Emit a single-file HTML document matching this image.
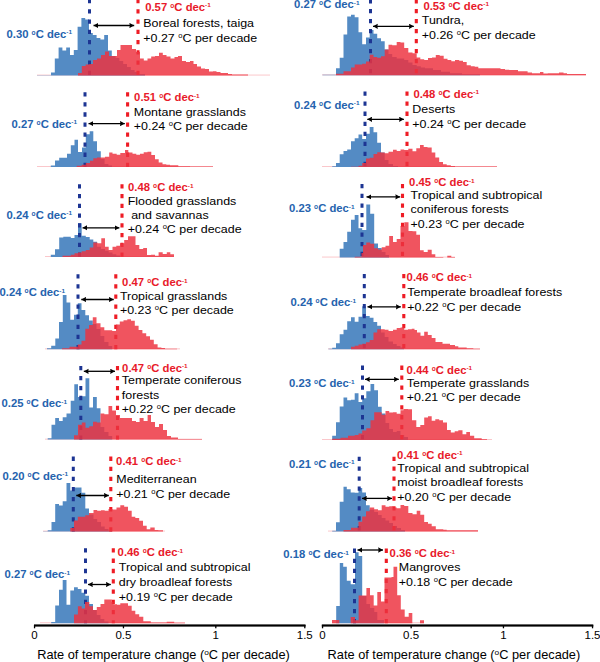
<!DOCTYPE html>
<html><head><meta charset="utf-8"><title>Temperature change histograms</title>
<style>
html,body{margin:0;padding:0;background:#fff;}
body{width:600px;height:662px;overflow:hidden;}
svg{display:block;font-family:"Liberation Sans",sans-serif;}
.lb{font-size:11.3px;font-weight:bold;}
.lb .sp{font-size:6.4px;}
.lb .so{font-size:6.6px;}
.tx{font-size:12.45px;fill:#000;}
.tx tspan[font-size]{font-size:7.6px;}
.tk{font-size:11.5px;fill:#000;}
.ax{font-size:12.8px;fill:#000;}
.ax .sp2{font-size:8.3px;}
</style></head>
<body>
<svg width="600" height="662" viewBox="0 0 600 662"><defs><marker id="ah" viewBox="0 0 10 10" preserveAspectRatio="none" refX="10" refY="5" markerWidth="4.8" markerHeight="5.6" orient="auto-start-reverse" markerUnits="userSpaceOnUse"><path d="M0,0.3 L10,5 L0,9.7 L0.8,5 Z" fill="#000"/></marker></defs><rect x="37" y="74.60" width="233" height="0.9" fill="#ed323f" opacity="0.3"/><path d="M37.00,75.50L37.00,75.20L51.00,75.20L51.00,72.50L54.80,72.50L54.80,58.50L58.60,58.50L58.60,47.50L62.40,47.50L62.40,50.50L66.20,50.50L66.20,47.50L70.00,47.50L70.00,55.00L73.80,55.00L73.80,50.00L77.60,50.00L77.60,26.80L81.40,26.80L81.40,18.00L85.20,18.00L85.20,19.50L89.00,19.50L89.00,33.00L92.80,33.00L92.80,35.00L96.60,35.00L96.60,38.00L100.40,38.00L100.40,39.50L104.20,39.50L104.20,35.00L108.00,35.00L108.00,50.50L111.80,50.50L111.80,56.00L115.60,56.00L115.60,58.00L119.40,58.00L119.40,61.00L123.20,61.00L123.20,64.00L127.00,64.00L127.00,67.00L130.80,67.00L130.80,70.00L134.60,70.00L134.60,72.00L138.40,72.00L138.40,74.00L145.00,74.00L145.00,75.50Z" fill="#548bc4"/><line x1="89.5" y1="-1" x2="89.5" y2="75.5" stroke="#1d3593" stroke-width="3" stroke-dasharray="4.3 5.95"/><line x1="138" y1="-1" x2="138" y2="75.5" stroke="#ee1c25" stroke-width="3.1" stroke-dasharray="4.3 5.95"/><path d="M78.00,75.50L78.00,73.00L81.80,73.00L81.80,66.00L85.60,66.00L85.60,64.50L89.40,64.50L89.40,64.00L93.00,64.00L93.00,60.00L97.00,60.00L97.00,58.50L101.00,58.50L101.00,55.00L105.00,55.00L105.00,51.50L109.00,51.50L109.00,56.00L117.00,56.00L117.00,50.00L120.50,50.00L120.50,45.00L132.00,45.00L132.00,49.00L136.00,49.00L136.00,52.00L140.00,52.00L140.00,58.50L143.80,58.50L143.80,60.50L147.50,60.50L147.50,58.50L151.20,58.50L151.20,56.50L155.00,56.50L155.00,56.00L159.00,56.00L159.00,52.80L162.80,52.80L162.80,55.00L166.50,55.00L166.50,56.50L170.50,56.50L170.50,58.50L174.50,58.50L174.50,57.00L178.00,57.00L178.00,56.00L182.00,56.00L182.00,61.00L186.00,61.00L186.00,62.00L190.00,62.00L190.00,61.00L193.50,61.00L193.50,64.00L197.00,64.00L197.00,66.50L201.00,66.50L201.00,68.50L205.00,68.50L205.00,69.00L209.00,69.00L209.00,71.50L213.00,71.50L213.00,71.20L216.50,71.20L216.50,72.00L220.50,72.00L220.50,73.00L228.00,73.00L228.00,74.00L232.00,74.00L232.00,74.60L248.00,74.60L248.00,75.50Z" fill="#ed323f" fill-opacity="0.835"/><line x1="93.5" y1="25.5" x2="134.2" y2="25.5" stroke="#000" stroke-width="1.3" marker-start="url(#ah)" marker-end="url(#ah)"/><text transform="translate(6.50,37.8) scale(1,0.96)" class="lb" fill="#2563ae">0.30 <tspan class="so" dy="-3.1">o</tspan><tspan dy="3.1">C dec</tspan><tspan class="sp" dy="-3.5">-1</tspan></text><text transform="translate(145.20,10.6) scale(1,0.96)" class="lb" fill="#e8192a">0.57 <tspan class="so" dy="-3.1">o</tspan><tspan dy="3.1">C dec</tspan><tspan class="sp" dy="-3.5">-1</tspan></text><text transform="translate(143.30,26.8) scale(1,0.94)" class="tx">Boreal forests, taiga</text><text transform="translate(143.30,41.5) scale(1,0.94)" class="tx">+0.27 <tspan font-size="8" dy="-4.2">o</tspan><tspan dy="4.2">C per decade</tspan></text><rect x="37" y="166.10" width="176" height="0.9" fill="#ed323f" opacity="0.3"/><path d="M50.80,167.00L50.80,165.50L55.00,165.50L55.00,160.50L59.20,160.50L59.20,157.80L67.00,157.80L67.00,153.70L70.80,153.70L70.80,145.30L74.50,145.30L74.50,139.70L78.00,139.70L78.00,152.00L82.00,152.00L82.00,147.50L85.80,147.50L85.80,134.20L89.70,134.20L89.70,131.30L93.30,131.30L93.30,141.30L97.00,141.30L97.00,151.30L100.80,151.30L100.80,159.00L104.60,159.00L104.60,164.00L108.40,164.00L108.40,165.50L112.00,165.50L112.00,167.00Z" fill="#548bc4"/><line x1="85" y1="92.2" x2="85" y2="167" stroke="#1d3593" stroke-width="3" stroke-dasharray="4.3 5.77"/><line x1="127.6" y1="92.2" x2="127.6" y2="167" stroke="#ee1c25" stroke-width="3.1" stroke-dasharray="4.3 5.77"/><path d="M76.70,167.00L76.70,165.80L81.70,165.80L81.70,164.70L85.80,164.70L85.80,163.00L90.00,163.00L90.00,160.80L93.30,160.80L93.30,158.30L97.00,158.30L97.00,157.50L105.00,157.50L105.00,156.70L109.20,156.70L109.20,152.50L112.50,152.50L112.50,153.70L116.70,153.70L116.70,154.70L120.30,154.70L120.30,153.00L125.00,153.00L125.00,150.00L128.30,150.00L128.30,152.50L132.50,152.50L132.50,153.70L136.30,153.70L136.30,154.70L140.00,154.70L140.00,153.80L143.70,153.80L143.70,152.20L147.50,152.20L147.50,151.70L151.30,151.70L151.30,155.00L155.00,155.00L155.00,159.20L158.70,159.20L158.70,162.50L162.50,162.50L162.50,164.20L166.30,164.20L166.30,164.70L170.00,164.70L170.00,165.30L178.30,165.30L178.30,166.20L190.00,166.20L190.00,166.60L213.00,166.60L213.00,167.00Z" fill="#ed323f" fill-opacity="0.835"/><line x1="88.5" y1="123.6" x2="124.8" y2="123.6" stroke="#000" stroke-width="1.3" marker-start="url(#ah)" marker-end="url(#ah)"/><text transform="translate(11.50,127.5) scale(1,0.96)" class="lb" fill="#2563ae">0.27 <tspan class="so" dy="-3.1">o</tspan><tspan dy="3.1">C dec</tspan><tspan class="sp" dy="-3.5">-1</tspan></text><text transform="translate(134.10,101.2) scale(1,0.96)" class="lb" fill="#e8192a">0.51 <tspan class="so" dy="-3.1">o</tspan><tspan dy="3.1">C dec</tspan><tspan class="sp" dy="-3.5">-1</tspan></text><text transform="translate(133.80,115.5) scale(1,0.94)" class="tx">Montane grasslands</text><text transform="translate(133.80,130) scale(1,0.94)" class="tx">+0.24 <tspan font-size="8" dy="-4.2">o</tspan><tspan dy="4.2">C per decade</tspan></text><rect x="45" y="256.10" width="129" height="0.9" fill="#ed323f" opacity="0.3"/><path d="M50.80,257.00L50.80,254.70L55.00,254.70L55.00,249.20L59.20,249.20L59.20,237.50L63.30,237.50L63.30,236.70L70.80,236.70L70.80,238.00L74.50,238.00L74.50,235.00L78.00,235.00L78.00,223.30L81.70,223.30L81.70,235.80L85.80,235.80L85.80,237.00L89.70,237.00L89.70,239.50L93.30,239.50L93.30,241.70L97.00,241.70L97.00,246.70L101.00,246.70L101.00,249.00L105.00,249.00L105.00,250.80L108.70,250.80L108.70,252.50L112.50,252.50L112.50,254.20L116.30,254.20L116.30,255.50L120.00,255.50L120.00,257.00Z" fill="#548bc4"/><line x1="79.5" y1="184.2" x2="79.5" y2="257" stroke="#1d3593" stroke-width="3" stroke-dasharray="4.3 5.46"/><line x1="122" y1="184.2" x2="122" y2="257" stroke="#ee1c25" stroke-width="3.1" stroke-dasharray="4.3 5.46"/><path d="M62.50,257.00L62.50,255.80L70.80,255.80L70.80,254.70L74.50,254.70L74.50,253.30L78.00,253.30L78.00,252.50L81.70,252.50L81.70,251.30L85.80,251.30L85.80,250.00L89.70,250.00L89.70,247.50L93.30,247.50L93.30,242.50L97.50,242.50L97.50,243.30L101.30,243.30L101.30,238.30L105.00,238.30L105.00,246.70L108.70,246.70L108.70,250.00L112.50,250.00L112.50,246.70L116.30,246.70L116.30,245.80L120.00,245.80L120.00,243.30L124.20,243.30L124.20,240.00L128.00,240.00L128.00,236.30L135.50,236.30L135.50,245.00L139.30,245.00L139.30,249.00L143.20,249.00L143.20,248.00L147.00,248.00L147.00,254.90L151.00,254.90L151.00,254.70L155.00,254.70L155.00,255.80L158.60,255.80L158.60,252.30L162.70,252.30L162.70,254.00L166.80,254.00L166.80,252.30L170.30,252.30L170.30,254.30L174.00,254.30L174.00,257.00Z" fill="#ed323f" fill-opacity="0.835"/><line x1="82.5" y1="227.8" x2="119.4" y2="227.8" stroke="#000" stroke-width="1.3" marker-start="url(#ah)" marker-end="url(#ah)"/><text transform="translate(6.50,218.8) scale(1,0.96)" class="lb" fill="#2563ae">0.24 <tspan class="so" dy="-3.1">o</tspan><tspan dy="3.1">C dec</tspan><tspan class="sp" dy="-3.5">-1</tspan></text><text transform="translate(128.00,191.1) scale(1,0.96)" class="lb" fill="#e8192a">0.48 <tspan class="so" dy="-3.1">o</tspan><tspan dy="3.1">C dec</tspan><tspan class="sp" dy="-3.5">-1</tspan></text><text transform="translate(127.70,204.6) scale(1,0.94)" class="tx">Flooded grasslands</text><text transform="translate(127.70,219) scale(1,0.94)" class="tx"> and savannas</text><text transform="translate(127.70,233.4) scale(1,0.94)" class="tx">+0.24 <tspan font-size="8" dy="-4.2">o</tspan><tspan dy="4.2">C per decade</tspan></text><rect x="45" y="348.40" width="135" height="0.9" fill="#ed323f" opacity="0.3"/><path d="M47.00,349.30L47.00,348.20L51.20,348.20L51.20,345.70L55.30,345.70L55.30,338.50L59.00,338.50L59.00,322.00L62.80,322.00L62.80,295.00L66.50,295.00L66.50,302.50L70.30,302.50L70.30,319.80L74.00,319.80L74.00,314.80L77.80,314.80L77.80,303.30L81.50,303.30L81.50,310.00L85.30,310.00L85.30,315.30L89.00,315.30L89.00,320.50L92.80,320.50L92.80,324.00L96.50,324.00L96.50,329.00L100.50,329.00L100.50,336.00L104.30,336.00L104.30,342.00L108.50,342.00L108.50,346.00L112.20,346.00L112.20,349.30Z" fill="#548bc4"/><line x1="78" y1="274.2" x2="78" y2="349.3" stroke="#1d3593" stroke-width="3" stroke-dasharray="4.3 5.80"/><line x1="115.8" y1="274.2" x2="115.8" y2="349.3" stroke="#ee1c25" stroke-width="3.1" stroke-dasharray="4.3 5.80"/><path d="M62.00,349.30L62.00,348.20L69.50,348.20L69.50,346.70L77.80,346.70L77.80,344.50L81.50,344.50L81.50,340.80L85.30,340.80L85.30,328.80L89.00,328.80L89.00,325.00L92.80,325.00L92.80,317.20L96.50,317.20L96.50,323.20L100.50,323.20L100.50,327.20L104.30,327.20L104.30,330.20L112.20,330.20L112.20,331.00L116.00,331.00L116.00,324.50L119.80,324.50L119.80,321.50L123.50,321.50L123.50,320.30L127.30,320.30L127.30,319.20L131.00,319.20L131.00,320.80L134.80,320.80L134.80,325.80L138.60,325.80L138.60,330.00L142.40,330.00L142.40,333.30L146.20,333.30L146.20,336.30L150.00,336.30L150.00,339.70L153.80,339.70L153.80,344.20L157.60,344.20L157.60,347.50L161.40,347.50L161.40,348.00L165.00,348.00L165.00,348.70L177.00,348.70L177.00,349.30Z" fill="#ed323f" fill-opacity="0.835"/><line x1="81.3" y1="299.5" x2="113.7" y2="299.5" stroke="#000" stroke-width="1.3" marker-start="url(#ah)" marker-end="url(#ah)"/><text transform="translate(-0.50,296.3) scale(1,0.96)" class="lb" fill="#2563ae">0.24 <tspan class="so" dy="-3.1">o</tspan><tspan dy="3.1">C dec</tspan><tspan class="sp" dy="-3.5">-1</tspan></text><text transform="translate(122.10,286.3) scale(1,0.96)" class="lb" fill="#e8192a">0.47 <tspan class="so" dy="-3.1">o</tspan><tspan dy="3.1">C dec</tspan><tspan class="sp" dy="-3.5">-1</tspan></text><text transform="translate(119.90,300) scale(1,0.94)" class="tx">Tropical grasslands</text><text transform="translate(119.90,314.4) scale(1,0.94)" class="tx">+0.23 <tspan font-size="8" dy="-4.2">o</tspan><tspan dy="4.2">C per decade</tspan></text><rect x="45" y="438.70" width="157" height="0.9" fill="#ed323f" opacity="0.3"/><path d="M47.70,439.60L47.70,438.20L51.50,438.20L51.50,424.70L55.20,424.70L55.20,418.00L59.00,418.00L59.00,421.00L62.70,421.00L62.70,417.20L66.50,417.20L66.50,413.50L70.70,413.50L70.70,400.80L74.30,400.80L74.30,384.20L78.00,384.20L78.00,397.00L81.80,397.00L81.80,396.20L85.50,396.20L85.50,378.20L89.30,378.20L89.30,407.50L93.00,407.50L93.00,397.00L96.80,397.00L96.80,408.20L100.50,408.20L100.50,427.00L104.30,427.00L104.30,432.00L108.50,432.00L108.50,436.00L112.20,436.00L112.20,439.60Z" fill="#548bc4"/><line x1="80.8" y1="366.05" x2="80.8" y2="439.6" stroke="#1d3593" stroke-width="3" stroke-dasharray="4.3 5.63"/><line x1="117.5" y1="366.05" x2="117.5" y2="439.6" stroke="#ee1c25" stroke-width="3.1" stroke-dasharray="4.3 5.63"/><path d="M74.00,439.60L74.00,435.20L78.00,435.20L78.00,424.70L81.80,424.70L81.80,422.50L85.50,422.50L85.50,427.70L89.30,427.70L89.30,426.20L93.00,426.20L93.00,421.70L96.80,421.70L96.80,422.50L100.50,422.50L100.50,413.50L104.30,413.50L104.30,414.20L108.50,414.20L108.50,406.00L112.20,406.00L112.20,410.50L116.00,410.50L116.00,415.00L120.00,415.00L120.00,418.00L132.00,418.00L132.00,421.00L136.00,421.00L136.00,422.00L139.60,422.00L139.60,418.00L143.60,418.00L143.60,421.00L147.60,421.00L147.60,415.00L151.00,415.00L151.00,422.00L155.00,422.00L155.00,427.00L159.00,427.00L159.00,424.00L163.00,424.00L163.00,430.00L167.00,430.00L167.00,436.00L171.00,436.00L171.00,437.40L178.00,437.40L178.00,439.00L202.00,439.00L202.00,439.60Z" fill="#ed323f" fill-opacity="0.835"/><line x1="83.8" y1="371.3" x2="115" y2="371.3" stroke="#000" stroke-width="1.3" marker-start="url(#ah)" marker-end="url(#ah)"/><text transform="translate(1.50,407) scale(1,0.96)" class="lb" fill="#2563ae">0.25 <tspan class="so" dy="-3.1">o</tspan><tspan dy="3.1">C dec</tspan><tspan class="sp" dy="-3.5">-1</tspan></text><text transform="translate(122.10,371.8) scale(1,0.96)" class="lb" fill="#e8192a">0.47 <tspan class="so" dy="-3.1">o</tspan><tspan dy="3.1">C dec</tspan><tspan class="sp" dy="-3.5">-1</tspan></text><text transform="translate(121.80,383.8) scale(1,0.94)" class="tx">Temperate coniferous</text><text transform="translate(121.80,398.5) scale(1,0.94)" class="tx">forests</text><text transform="translate(121.80,413) scale(1,0.94)" class="tx">+0.22 <tspan font-size="8" dy="-4.2">o</tspan><tspan dy="4.2">C per decade</tspan></text><rect x="43" y="530.60" width="122" height="0.9" fill="#ed323f" opacity="0.3"/><path d="M43.20,531.50L43.20,531.20L47.70,531.20L47.70,530.20L51.50,530.20L51.50,522.00L55.20,522.00L55.20,504.00L59.00,504.00L59.00,505.50L62.70,505.50L62.70,501.30L66.50,501.30L66.50,483.00L70.30,483.00L70.30,490.50L74.00,490.50L74.00,487.50L81.50,487.50L81.50,492.70L85.30,492.70L85.30,508.50L89.00,508.50L89.00,514.50L93.50,514.50L93.50,519.00L97.20,519.00L97.20,522.00L101.00,522.00L101.00,526.50L104.70,526.50L104.70,529.00L108.50,529.00L108.50,530.50L112.00,530.50L112.00,531.50Z" fill="#548bc4"/><line x1="73.3" y1="456.6" x2="73.3" y2="531.5" stroke="#1d3593" stroke-width="3" stroke-dasharray="4.3 5.80"/><line x1="110.8" y1="456.6" x2="110.8" y2="531.5" stroke="#ee1c25" stroke-width="3.1" stroke-dasharray="4.3 5.80"/><path d="M70.30,531.50L70.30,528.00L74.00,528.00L74.00,520.50L77.80,520.50L77.80,516.70L85.30,516.70L85.30,515.20L89.00,515.20L89.00,513.00L93.50,513.00L93.50,510.00L97.20,510.00L97.20,510.70L101.00,510.70L101.00,510.30L104.70,510.30L104.70,510.70L108.50,510.70L108.50,509.00L112.50,509.00L112.50,509.50L116.50,509.50L116.50,507.50L120.30,507.50L120.30,505.20L124.20,505.20L124.20,506.70L128.00,506.70L128.00,510.80L131.70,510.80L131.70,516.70L135.30,516.70L135.30,518.00L139.20,518.00L139.20,520.80L143.00,520.80L143.00,525.80L146.70,525.80L146.70,529.20L150.30,529.20L150.30,527.50L154.70,527.50L154.70,530.00L158.30,530.00L158.30,530.30L163.00,530.30L163.00,531.50Z" fill="#ed323f" fill-opacity="0.835"/><line x1="76.3" y1="495.5" x2="108.8" y2="495.5" stroke="#000" stroke-width="1.3" marker-start="url(#ah)" marker-end="url(#ah)"/><text transform="translate(2.50,479.5) scale(1,0.96)" class="lb" fill="#2563ae">0.20 <tspan class="so" dy="-3.1">o</tspan><tspan dy="3.1">C dec</tspan><tspan class="sp" dy="-3.5">-1</tspan></text><text transform="translate(116.10,465.2) scale(1,0.96)" class="lb" fill="#e8192a">0.41 <tspan class="so" dy="-3.1">o</tspan><tspan dy="3.1">C dec</tspan><tspan class="sp" dy="-3.5">-1</tspan></text><text transform="translate(116.30,483.2) scale(1,0.94)" class="tx">Mediterranean</text><text transform="translate(116.30,498) scale(1,0.94)" class="tx">+0.21 <tspan font-size="8" dy="-4.2">o</tspan><tspan dy="4.2">C per decade</tspan></text><rect x="40" y="622.30" width="145" height="0.9" fill="#ed323f" opacity="0.3"/><path d="M51.20,623.20L51.20,622.00L55.20,622.00L55.20,605.50L59.00,605.50L59.00,589.70L62.70,589.70L62.70,580.00L66.50,580.00L66.50,604.70L70.30,604.70L70.30,590.50L74.00,590.50L74.00,587.20L77.80,587.20L77.80,589.00L81.50,589.00L81.50,592.70L85.30,592.70L85.30,595.70L89.00,595.70L89.00,604.00L93.00,604.00L93.00,610.00L96.80,610.00L96.80,615.00L100.50,615.00L100.50,619.00L104.30,619.00L104.30,621.50L108.50,621.50L108.50,623.20Z" fill="#548bc4"/><line x1="85.5" y1="548.3" x2="85.5" y2="623.2" stroke="#1d3593" stroke-width="3" stroke-dasharray="4.3 5.98"/><line x1="113.3" y1="548.3" x2="113.3" y2="623.2" stroke="#ee1c25" stroke-width="3.1" stroke-dasharray="4.3 5.98"/><path d="M74.00,623.20L74.00,614.60L77.90,614.60L77.90,606.30L81.70,606.30L81.70,608.60L85.00,608.60L85.00,602.00L89.30,602.00L89.30,606.20L93.00,606.20L93.00,610.00L96.80,610.00L96.80,607.00L100.50,607.00L100.50,604.00L104.30,604.00L104.30,599.50L111.80,599.50L111.80,602.00L113.50,602.00L113.50,604.20L117.00,604.20L117.00,604.70L120.30,604.70L120.30,603.30L128.00,603.30L128.00,605.80L131.70,605.80L131.70,610.80L135.30,610.80L135.30,614.20L139.20,614.20L139.20,616.70L143.30,616.70L143.30,621.30L150.80,621.30L150.80,622.50L166.70,622.50L166.70,621.80L174.20,621.80L174.20,622.70L185.00,622.70L185.00,623.20Z" fill="#ed323f" fill-opacity="0.835"/><line x1="88" y1="584.5" x2="110.8" y2="584.5" stroke="#000" stroke-width="1.3" marker-start="url(#ah)" marker-end="url(#ah)"/><text transform="translate(4.50,578) scale(1,0.96)" class="lb" fill="#2563ae">0.27 <tspan class="so" dy="-3.1">o</tspan><tspan dy="3.1">C dec</tspan><tspan class="sp" dy="-3.5">-1</tspan></text><text transform="translate(117.60,556.3) scale(1,0.96)" class="lb" fill="#e8192a">0.46 <tspan class="so" dy="-3.1">o</tspan><tspan dy="3.1">C dec</tspan><tspan class="sp" dy="-3.5">-1</tspan></text><text transform="translate(118.80,571.2) scale(1,0.94)" class="tx">Tropical and subtropical</text><text transform="translate(118.80,586.2) scale(1,0.94)" class="tx">dry broadleaf forests</text><text transform="translate(118.80,600.8) scale(1,0.94)" class="tx">+0.19 <tspan font-size="8" dy="-4.2">o</tspan><tspan dy="4.2">C per decade</tspan></text><rect x="322" y="74.40" width="264" height="0.9" fill="#ed323f" opacity="0.3"/><path d="M322.50,75.30L322.50,74.80L336.00,74.80L336.00,68.20L339.70,68.20L339.70,57.70L343.50,57.70L343.50,34.50L347.20,34.50L347.20,16.50L351.00,16.50L351.00,14.70L354.70,14.70L354.70,17.20L358.50,17.20L358.50,32.20L362.20,32.20L362.20,44.20L366.00,44.20L366.00,37.50L369.70,37.50L369.70,30.00L373.50,30.00L373.50,33.70L377.20,33.70L377.20,38.20L381.00,38.20L381.00,41.20L384.70,41.20L384.70,49.50L388.50,49.50L388.50,54.00L392.20,54.00L392.20,57.00L396.70,57.00L396.70,58.50L404.20,58.50L404.20,60.00L408.30,60.00L408.30,62.50L412.50,62.50L412.50,65.00L416.70,65.00L416.70,66.30L420.80,66.30L420.80,67.50L425.00,67.50L425.00,68.30L433.00,68.30L433.00,70.00L441.00,70.00L441.00,71.70L450.00,71.70L450.00,73.30L462.00,73.30L462.00,74.20L480.00,74.20L480.00,75.30Z" fill="#548bc4"/><line x1="370.5" y1="-0.9" x2="370.5" y2="75.3" stroke="#1d3593" stroke-width="3" stroke-dasharray="4.3 5.67"/><line x1="416.3" y1="-0.9" x2="416.3" y2="75.3" stroke="#ee1c25" stroke-width="3.1" stroke-dasharray="4.3 5.67"/><path d="M336.00,75.30L336.00,73.80L343.50,73.80L343.50,71.20L351.00,71.20L351.00,67.50L354.70,67.50L354.70,64.50L362.20,64.50L362.20,63.70L366.00,63.70L366.00,61.50L369.70,61.50L369.70,54.70L373.50,54.70L373.50,57.00L377.20,57.00L377.20,57.70L381.00,57.70L381.00,56.20L384.70,56.20L384.70,49.50L388.50,49.50L388.50,44.70L392.20,44.70L392.20,45.30L396.70,45.30L396.70,42.00L400.50,42.00L400.50,42.60L404.20,42.60L404.20,48.00L408.30,48.00L408.30,52.50L412.50,52.50L412.50,53.30L416.70,53.30L416.70,57.50L420.30,57.50L420.30,59.20L424.20,59.20L424.20,60.00L428.00,60.00L428.00,58.00L432.00,58.00L432.00,57.50L435.80,57.50L435.80,55.00L439.70,55.00L439.70,55.80L443.70,55.80L443.70,58.70L447.50,58.70L447.50,60.00L451.30,60.00L451.30,61.30L455.00,61.30L455.00,60.00L459.20,60.00L459.20,60.80L463.00,60.80L463.00,62.00L466.70,62.00L466.70,65.30L470.80,65.30L470.80,66.30L474.70,66.30L474.70,66.70L478.30,66.70L478.30,68.30L500.50,68.30L500.50,68.90L505.00,68.90L505.00,69.80L509.20,69.80L509.20,70.10L518.00,70.10L518.00,71.20L527.60,71.20L527.60,72.40L532.00,72.40L532.00,73.20L540.00,73.20L540.00,71.90L543.40,71.90L543.40,73.60L547.80,73.60L547.80,73.20L559.00,73.20L559.00,72.40L563.50,72.40L563.50,73.20L567.00,73.20L567.00,74.00L586.00,74.00L586.00,75.30Z" fill="#ed323f" fill-opacity="0.835"/><line x1="373" y1="26.3" x2="413.8" y2="26.3" stroke="#000" stroke-width="1.3" marker-start="url(#ah)" marker-end="url(#ah)"/><text transform="translate(294.00,8) scale(1,0.96)" class="lb" fill="#2563ae">0.27 <tspan class="so" dy="-3.1">o</tspan><tspan dy="3.1">C dec</tspan><tspan class="sp" dy="-3.5">-1</tspan></text><text transform="translate(423.40,9.5) scale(1,0.96)" class="lb" fill="#e8192a">0.53 <tspan class="so" dy="-3.1">o</tspan><tspan dy="3.1">C dec</tspan><tspan class="sp" dy="-3.5">-1</tspan></text><text transform="translate(421.80,23.8) scale(1,0.94)" class="tx">Tundra,</text><text transform="translate(421.80,38.8) scale(1,0.94)" class="tx">+0.26 <tspan font-size="8" dy="-4.2">o</tspan><tspan dy="4.2">C per decade</tspan></text><rect x="322" y="166.10" width="175" height="0.9" fill="#ed323f" opacity="0.3"/><path d="M332.20,167.00L332.20,166.30L336.00,166.30L336.00,163.00L339.70,163.00L339.70,154.30L343.50,154.30L343.50,151.00L347.20,151.00L347.20,149.50L351.00,149.50L351.00,141.20L354.70,141.20L354.70,138.20L358.50,138.20L358.50,134.50L362.20,134.50L362.20,139.00L366.00,139.00L366.00,133.70L369.70,133.70L369.70,127.00L373.50,127.00L373.50,132.20L377.20,132.20L377.20,142.70L381.00,142.70L381.00,152.50L384.70,152.50L384.70,160.00L388.50,160.00L388.50,164.00L393.00,164.00L393.00,166.00L398.00,166.00L398.00,167.00Z" fill="#548bc4"/><line x1="365" y1="91.5" x2="365" y2="167" stroke="#1d3593" stroke-width="3" stroke-dasharray="4.3 5.75"/><line x1="407" y1="91.5" x2="407" y2="167" stroke="#ee1c25" stroke-width="3.1" stroke-dasharray="4.3 5.75"/><path d="M351.00,167.00L351.00,166.70L358.50,166.70L358.50,165.70L362.20,165.70L362.20,163.00L366.00,163.00L366.00,158.50L369.70,158.50L369.70,157.70L373.50,157.70L373.50,154.00L377.20,154.00L377.20,152.20L381.00,152.20L381.00,152.50L384.70,152.50L384.70,153.20L388.50,153.20L388.50,151.70L393.00,151.70L393.00,149.80L396.70,149.80L396.70,151.00L400.50,151.00L400.50,149.50L404.20,149.50L404.20,150.00L408.30,150.00L408.30,148.70L412.50,148.70L412.50,151.30L416.30,151.30L416.30,148.30L420.00,148.30L420.00,145.00L423.70,145.00L423.70,147.00L427.50,147.00L427.50,147.50L431.70,147.50L431.70,152.50L435.30,152.50L435.30,157.50L439.20,157.50L439.20,162.00L443.00,162.00L443.00,164.20L446.70,164.20L446.70,165.30L450.80,165.30L450.80,166.00L455.00,166.00L455.00,166.60L497.00,166.60L497.00,167.00Z" fill="#ed323f" fill-opacity="0.835"/><line x1="367.3" y1="119.3" x2="403.9" y2="119.3" stroke="#000" stroke-width="1.3" marker-start="url(#ah)" marker-end="url(#ah)"/><text transform="translate(294.00,108.8) scale(1,0.96)" class="lb" fill="#2563ae">0.24 <tspan class="so" dy="-3.1">o</tspan><tspan dy="3.1">C dec</tspan><tspan class="sp" dy="-3.5">-1</tspan></text><text transform="translate(413.40,97.5) scale(1,0.96)" class="lb" fill="#e8192a">0.48 <tspan class="so" dy="-3.1">o</tspan><tspan dy="3.1">C dec</tspan><tspan class="sp" dy="-3.5">-1</tspan></text><text transform="translate(412.30,112.5) scale(1,0.94)" class="tx">Deserts</text><text transform="translate(412.30,127.5) scale(1,0.94)" class="tx">+0.24 <tspan font-size="8" dy="-4.2">o</tspan><tspan dy="4.2">C per decade</tspan></text><rect x="322" y="256.60" width="133" height="0.9" fill="#ed323f" opacity="0.3"/><path d="M339.70,257.50L339.70,248.80L343.50,248.80L343.50,242.00L347.20,242.00L347.20,231.80L351.00,231.80L351.00,219.80L354.70,219.80L354.70,215.00L358.50,215.00L358.50,228.20L362.20,228.20L362.20,230.00L366.30,230.00L366.30,204.50L370.20,204.50L370.20,213.80L374.20,213.80L374.20,243.50L378.00,243.50L378.00,248.00L381.70,248.00L381.70,252.00L385.50,252.00L385.50,255.00L389.00,255.00L389.00,257.50Z" fill="#548bc4"/><line x1="362" y1="184.05" x2="362" y2="257.5" stroke="#1d3593" stroke-width="3" stroke-dasharray="4.3 5.37"/><line x1="402.5" y1="184.05" x2="402.5" y2="257.5" stroke="#ee1c25" stroke-width="3.1" stroke-dasharray="4.3 5.37"/><path d="M354.70,257.50L354.70,256.70L361.50,256.70L361.50,253.00L363.00,253.00L363.00,245.00L366.30,245.00L366.30,242.50L370.20,242.50L370.20,243.80L374.20,243.80L374.20,248.30L378.00,248.30L378.00,249.50L381.70,249.50L381.70,247.20L385.50,247.20L385.50,245.70L389.20,245.70L389.20,236.00L393.00,236.00L393.00,242.00L396.70,242.00L396.70,239.00L400.50,239.00L400.50,226.00L404.30,226.00L404.30,222.30L408.50,222.30L408.50,231.00L412.50,231.00L412.50,231.30L416.30,231.30L416.30,234.70L420.00,234.70L420.00,250.30L423.70,250.30L423.70,252.00L427.70,252.00L427.70,249.70L431.70,249.70L431.70,254.30L435.30,254.30L435.30,257.00L443.30,257.00L443.30,257.50L447.30,257.50L447.30,255.70L451.30,255.70L451.30,257.00L455.00,257.00L455.00,257.50Z" fill="#ed323f" fill-opacity="0.835"/><line x1="366.5" y1="196.9" x2="400.2" y2="196.9" stroke="#000" stroke-width="1.3" marker-start="url(#ah)" marker-end="url(#ah)"/><text transform="translate(289.00,212) scale(1,0.96)" class="lb" fill="#2563ae">0.23 <tspan class="so" dy="-3.1">o</tspan><tspan dy="3.1">C dec</tspan><tspan class="sp" dy="-3.5">-1</tspan></text><text transform="translate(409.10,186.3) scale(1,0.96)" class="lb" fill="#e8192a">0.45 <tspan class="so" dy="-3.1">o</tspan><tspan dy="3.1">C dec</tspan><tspan class="sp" dy="-3.5">-1</tspan></text><text transform="translate(410.60,198.8) scale(1,0.94)" class="tx">Tropical and subtropical</text><text transform="translate(410.60,213) scale(1,0.94)" class="tx">coniferous forests</text><text transform="translate(410.60,227.5) scale(1,0.94)" class="tx">+0.23 <tspan font-size="8" dy="-4.2">o</tspan><tspan dy="4.2">C per decade</tspan></text><rect x="328" y="348.40" width="152" height="0.9" fill="#ed323f" opacity="0.3"/><path d="M328.50,349.30L328.50,348.70L332.20,348.70L332.20,347.80L336.00,347.80L336.00,343.30L339.70,343.30L339.70,334.30L343.50,334.30L343.50,329.80L347.20,329.80L347.20,321.20L351.00,321.20L351.00,317.20L354.70,317.20L354.70,321.70L358.50,321.70L358.50,316.80L362.20,316.80L362.20,306.20L366.00,306.20L366.00,316.00L369.70,316.00L369.70,317.80L373.50,317.80L373.50,322.00L377.20,322.00L377.20,325.70L381.00,325.70L381.00,332.50L384.70,332.50L384.70,337.00L388.50,337.00L388.50,341.50L393.00,341.50L393.00,344.00L396.70,344.00L396.70,346.00L400.50,346.00L400.50,347.50L404.00,347.50L404.00,349.30Z" fill="#548bc4"/><line x1="364.3" y1="273.9" x2="364.3" y2="349.3" stroke="#1d3593" stroke-width="3" stroke-dasharray="4.3 5.70"/><line x1="403.8" y1="273.9" x2="403.8" y2="349.3" stroke="#ee1c25" stroke-width="3.1" stroke-dasharray="4.3 5.70"/><path d="M351.00,349.30L351.00,346.70L354.70,346.70L354.70,345.70L358.50,345.70L358.50,344.50L362.20,344.50L362.20,343.70L366.00,343.70L366.00,342.20L369.70,342.20L369.70,340.00L373.50,340.00L373.50,332.50L377.20,332.50L377.20,329.20L384.70,329.20L384.70,329.80L388.50,329.80L388.50,331.00L393.00,331.00L393.00,329.80L396.70,329.80L396.70,328.00L400.50,328.00L400.50,327.60L404.20,327.60L404.20,329.70L408.00,329.70L408.00,329.20L411.80,329.20L411.80,328.70L414.50,328.70L414.50,330.00L417.00,330.00L417.00,332.50L420.50,332.50L420.50,335.80L424.20,335.80L424.20,331.70L427.80,331.70L427.80,335.00L431.70,335.00L431.70,338.00L435.50,338.00L435.50,342.00L442.50,342.00L442.50,343.70L450.00,343.70L450.00,345.00L455.00,345.00L455.00,346.30L458.30,346.30L458.30,347.50L466.70,347.50L466.70,348.30L473.30,348.30L473.30,348.80L480.00,348.80L480.00,349.30Z" fill="#ed323f" fill-opacity="0.835"/><line x1="367.5" y1="306.8" x2="400.8" y2="306.8" stroke="#000" stroke-width="1.3" marker-start="url(#ah)" marker-end="url(#ah)"/><text transform="translate(290.50,306) scale(1,0.96)" class="lb" fill="#2563ae">0.24 <tspan class="so" dy="-3.1">o</tspan><tspan dy="3.1">C dec</tspan><tspan class="sp" dy="-3.5">-1</tspan></text><text transform="translate(406.60,281.3) scale(1,0.96)" class="lb" fill="#e8192a">0.46 <tspan class="so" dy="-3.1">o</tspan><tspan dy="3.1">C dec</tspan><tspan class="sp" dy="-3.5">-1</tspan></text><text transform="translate(407.30,296.3) scale(1,0.94)" class="tx">Temperate broadleaf forests</text><text transform="translate(407.30,310.8) scale(1,0.94)" class="tx">+0.22 <tspan font-size="8" dy="-4.2">o</tspan><tspan dy="4.2">C per decade</tspan></text><rect x="322" y="439.10" width="170" height="0.9" fill="#ed323f" opacity="0.3"/><path d="M332.20,440.00L332.20,435.70L336.00,435.70L336.00,422.20L339.70,422.20L339.70,406.50L343.50,406.50L343.50,397.50L347.20,397.50L347.20,400.20L351.00,400.20L351.00,399.70L354.70,399.70L354.70,393.30L358.50,393.30L358.50,402.00L362.20,402.00L362.20,398.20L366.30,398.20L366.30,391.20L370.50,391.20L370.50,384.00L374.20,384.00L374.20,390.30L378.00,390.30L378.00,406.80L381.70,406.80L381.70,413.50L385.50,413.50L385.50,423.00L389.20,423.00L389.20,429.00L393.00,429.00L393.00,432.00L396.70,432.00L396.70,431.00L400.50,431.00L400.50,435.00L404.20,435.00L404.20,437.00L408.00,437.00L408.00,440.00Z" fill="#548bc4"/><line x1="362.5" y1="365.6" x2="362.5" y2="440" stroke="#1d3593" stroke-width="3" stroke-dasharray="4.3 5.60"/><line x1="401.8" y1="365.6" x2="401.8" y2="440" stroke="#ee1c25" stroke-width="3.1" stroke-dasharray="4.3 5.60"/><path d="M332.20,440.00L332.20,438.70L340.50,438.70L340.50,437.70L348.00,437.70L348.00,435.70L354.70,435.70L354.70,435.00L358.50,435.00L358.50,433.50L362.20,433.50L362.20,430.50L366.30,430.50L366.30,428.20L370.50,428.20L370.50,420.30L374.20,420.30L374.20,412.20L381.70,412.20L381.70,414.70L385.50,414.70L385.50,411.00L389.20,411.00L389.20,412.50L393.00,412.50L393.00,412.20L396.70,412.20L396.70,413.70L400.50,413.70L400.50,410.20L403.50,410.20L403.50,409.00L408.00,409.00L408.00,409.20L412.00,409.20L412.00,420.30L416.30,420.30L416.30,427.00L420.30,427.00L420.30,425.00L424.20,425.00L424.20,417.50L428.00,417.50L428.00,416.30L431.70,416.30L431.70,420.80L435.30,420.80L435.30,419.20L439.20,419.20L439.20,420.30L443.00,420.30L443.00,422.50L447.00,422.50L447.00,430.00L450.80,430.00L450.80,432.50L454.70,432.50L454.70,431.30L458.30,431.30L458.30,430.30L462.50,430.30L462.50,434.20L466.30,434.20L466.30,432.00L470.00,432.00L470.00,435.80L474.20,435.80L474.20,438.30L481.70,438.30L481.70,439.20L487.00,439.20L487.00,440.00Z" fill="#ed323f" fill-opacity="0.835"/><line x1="365" y1="379.3" x2="398.8" y2="379.3" stroke="#000" stroke-width="1.3" marker-start="url(#ah)" marker-end="url(#ah)"/><text transform="translate(289.00,387) scale(1,0.96)" class="lb" fill="#2563ae">0.23 <tspan class="so" dy="-3.1">o</tspan><tspan dy="3.1">C dec</tspan><tspan class="sp" dy="-3.5">-1</tspan></text><text transform="translate(406.60,373.8) scale(1,0.96)" class="lb" fill="#e8192a">0.44 <tspan class="so" dy="-3.1">o</tspan><tspan dy="3.1">C dec</tspan><tspan class="sp" dy="-3.5">-1</tspan></text><text transform="translate(406.80,387) scale(1,0.94)" class="tx">Temperate grasslands</text><text transform="translate(406.80,401.3) scale(1,0.94)" class="tx">+0.21 <tspan font-size="8" dy="-4.2">o</tspan><tspan dy="4.2">C per decade</tspan></text><rect x="328" y="530.60" width="150" height="0.9" fill="#ed323f" opacity="0.3"/><path d="M332.20,531.50L332.20,530.70L336.00,530.70L336.00,522.20L339.70,522.20L339.70,501.80L343.50,501.80L343.50,486.80L346.80,486.80L346.80,489.20L350.70,489.20L350.70,492.50L354.70,492.50L354.70,492.80L358.50,492.80L358.50,488.00L362.20,488.00L362.20,492.50L366.00,492.50L366.00,505.20L369.70,505.20L369.70,509.70L374.20,509.70L374.20,512.00L378.00,512.00L378.00,515.00L381.70,515.00L381.70,518.00L385.50,518.00L385.50,520.50L389.20,520.50L389.20,523.00L393.00,523.00L393.00,526.00L397.00,526.00L397.00,528.00L401.00,528.00L401.00,530.00L405.00,530.00L405.00,531.50Z" fill="#548bc4"/><line x1="359.2" y1="456.65" x2="359.2" y2="531.5" stroke="#1d3593" stroke-width="3" stroke-dasharray="4.3 5.62"/><line x1="394" y1="456.65" x2="394" y2="531.5" stroke="#ee1c25" stroke-width="3.1" stroke-dasharray="4.3 5.62"/><path d="M343.50,531.50L343.50,530.00L351.00,530.00L351.00,527.70L358.50,527.70L358.50,521.70L362.20,521.70L362.20,516.50L366.00,516.50L366.00,511.20L369.70,511.20L369.70,507.50L374.20,507.50L374.20,509.30L378.00,509.30L378.00,510.20L381.70,510.20L381.70,505.20L385.50,505.20L385.50,506.70L389.20,506.70L389.20,506.30L393.00,506.30L393.00,507.50L396.70,507.50L396.70,508.20L400.50,508.20L400.50,505.00L404.20,505.00L404.20,506.00L408.30,506.00L408.30,513.00L412.50,513.00L412.50,514.20L416.70,514.20L416.70,510.80L420.30,510.80L420.30,514.70L424.20,514.70L424.20,522.00L428.00,522.00L428.00,523.70L431.70,523.70L431.70,526.30L435.80,526.30L435.80,529.30L443.30,529.30L443.30,529.70L446.70,529.70L446.70,530.30L478.00,530.30L478.00,531.50Z" fill="#ed323f" fill-opacity="0.835"/><line x1="362" y1="498.4" x2="392" y2="498.4" stroke="#000" stroke-width="1.3" marker-start="url(#ah)" marker-end="url(#ah)"/><text transform="translate(289.00,467.5) scale(1,0.96)" class="lb" fill="#2563ae">0.21 <tspan class="so" dy="-3.1">o</tspan><tspan dy="3.1">C dec</tspan><tspan class="sp" dy="-3.5">-1</tspan></text><text transform="translate(397.10,458.8) scale(1,0.96)" class="lb" fill="#e8192a">0.41 <tspan class="so" dy="-3.1">o</tspan><tspan dy="3.1">C dec</tspan><tspan class="sp" dy="-3.5">-1</tspan></text><text transform="translate(397.30,472) scale(1,0.94)" class="tx">Tropical and subtropical</text><text transform="translate(397.30,486.3) scale(1,0.94)" class="tx">moist broadleaf forests</text><text transform="translate(397.30,501.3) scale(1,0.94)" class="tx">+0.20 <tspan font-size="8" dy="-4.2">o</tspan><tspan dy="4.2">C per decade</tspan></text><rect x="332" y="622.30" width="92" height="0.9" fill="#ed323f" opacity="0.3"/><path d="M336.20,623.20L336.20,606.00L339.80,606.00L339.80,563.10L343.20,563.10L343.20,566.80L346.80,566.80L346.80,580.70L350.70,580.70L350.70,584.30L355.00,584.30L355.00,552.30L358.60,552.30L358.60,555.90L362.20,555.90L362.20,596.00L366.40,596.00L366.40,604.00L370.00,604.00L370.00,608.00L374.30,608.00L374.30,612.00L377.30,612.00L377.30,620.00L384.00,620.00L384.00,623.20Z" fill="#548bc4"/><line x1="354.5" y1="548.6" x2="354.5" y2="623.2" stroke="#1d3593" stroke-width="3" stroke-dasharray="4.3 5.77"/><line x1="386.3" y1="548.6" x2="386.3" y2="623.2" stroke="#ee1c25" stroke-width="3.1" stroke-dasharray="4.3 5.77"/><path d="M332.00,623.20L332.00,620.00L339.30,620.00L339.30,623.20L350.70,623.20L350.70,617.00L355.00,617.00L355.00,620.20L358.60,620.20L358.60,595.50L366.40,595.50L366.40,588.00L370.00,588.00L370.00,595.20L373.70,595.20L373.70,605.60L377.30,605.60L377.30,592.00L381.00,592.00L381.00,601.50L384.50,601.50L384.50,577.50L391.50,577.50L391.50,577.00L393.50,577.00L393.50,566.80L397.20,566.80L397.20,595.30L400.80,595.30L400.80,609.60L404.70,609.60L404.70,616.70L408.70,616.70L408.70,613.00L412.30,613.00L412.30,623.20L420.00,623.20L420.00,620.30L424.00,620.30L424.00,623.20Z" fill="#ed323f" fill-opacity="0.835"/><line x1="357.5" y1="550" x2="383" y2="550" stroke="#000" stroke-width="1.3" marker-start="url(#ah)" marker-end="url(#ah)"/><text transform="translate(283.30,558.2) scale(1,0.96)" class="lb" fill="#2563ae">0.18 <tspan class="so" dy="-3.1">o</tspan><tspan dy="3.1">C dec</tspan><tspan class="sp" dy="-3.5">-1</tspan></text><text transform="translate(389.60,557) scale(1,0.96)" class="lb" fill="#e8192a">0.36 <tspan class="so" dy="-3.1">o</tspan><tspan dy="3.1">C dec</tspan><tspan class="sp" dy="-3.5">-1</tspan></text><text transform="translate(398.80,571.2) scale(1,0.94)" class="tx">Mangroves</text><text transform="translate(398.80,586.2) scale(1,0.94)" class="tx">+0.18 <tspan font-size="8" dy="-4.2">o</tspan><tspan dy="4.2">C per decade</tspan></text><rect x="34" y="624.4" width="271.55" height="2.2" fill="#000"/><rect x="33.90" y="625" width="1.3" height="3.3" fill="#000"/><rect x="122.80" y="625" width="1.3" height="3.3" fill="#000"/><rect x="215.15" y="625" width="1.3" height="3.3" fill="#000"/><rect x="304.15" y="625" width="1.3" height="3.3" fill="#000"/><text x="34.50" y="638.6" class="tk" text-anchor="middle">0</text><text x="123.40" y="638.6" class="tk" text-anchor="middle">0.5</text><text x="215.75" y="638.6" class="tk" text-anchor="middle">1</text><text x="304.75" y="638.6" class="tk" text-anchor="middle">1.5</text><rect x="321.8" y="624.4" width="271.50" height="2.2" fill="#000"/><rect x="321.90" y="625" width="1.3" height="3.3" fill="#000"/><rect x="410.50" y="625" width="1.3" height="3.3" fill="#000"/><rect x="502.80" y="625" width="1.3" height="3.3" fill="#000"/><rect x="591.90" y="625" width="1.3" height="3.3" fill="#000"/><text x="322.50" y="638.6" class="tk" text-anchor="middle">0</text><text x="411.10" y="638.6" class="tk" text-anchor="middle">0.5</text><text x="503.40" y="638.6" class="tk" text-anchor="middle">1</text><text x="592.50" y="638.6" class="tk" text-anchor="middle">1.5</text><text transform="translate(37.2,659) scale(1,0.965)" class="ax">Rate of temperature change (<tspan class="sp2" dy="-4.5">o</tspan><tspan dy="4.5">C per decade)</tspan></text><text transform="translate(327.6,659) scale(1,0.965)" class="ax">Rate of temperature change (<tspan class="sp2" dy="-4.5">o</tspan><tspan dy="4.5">C per decade)</tspan></text></svg>
</body></html>
